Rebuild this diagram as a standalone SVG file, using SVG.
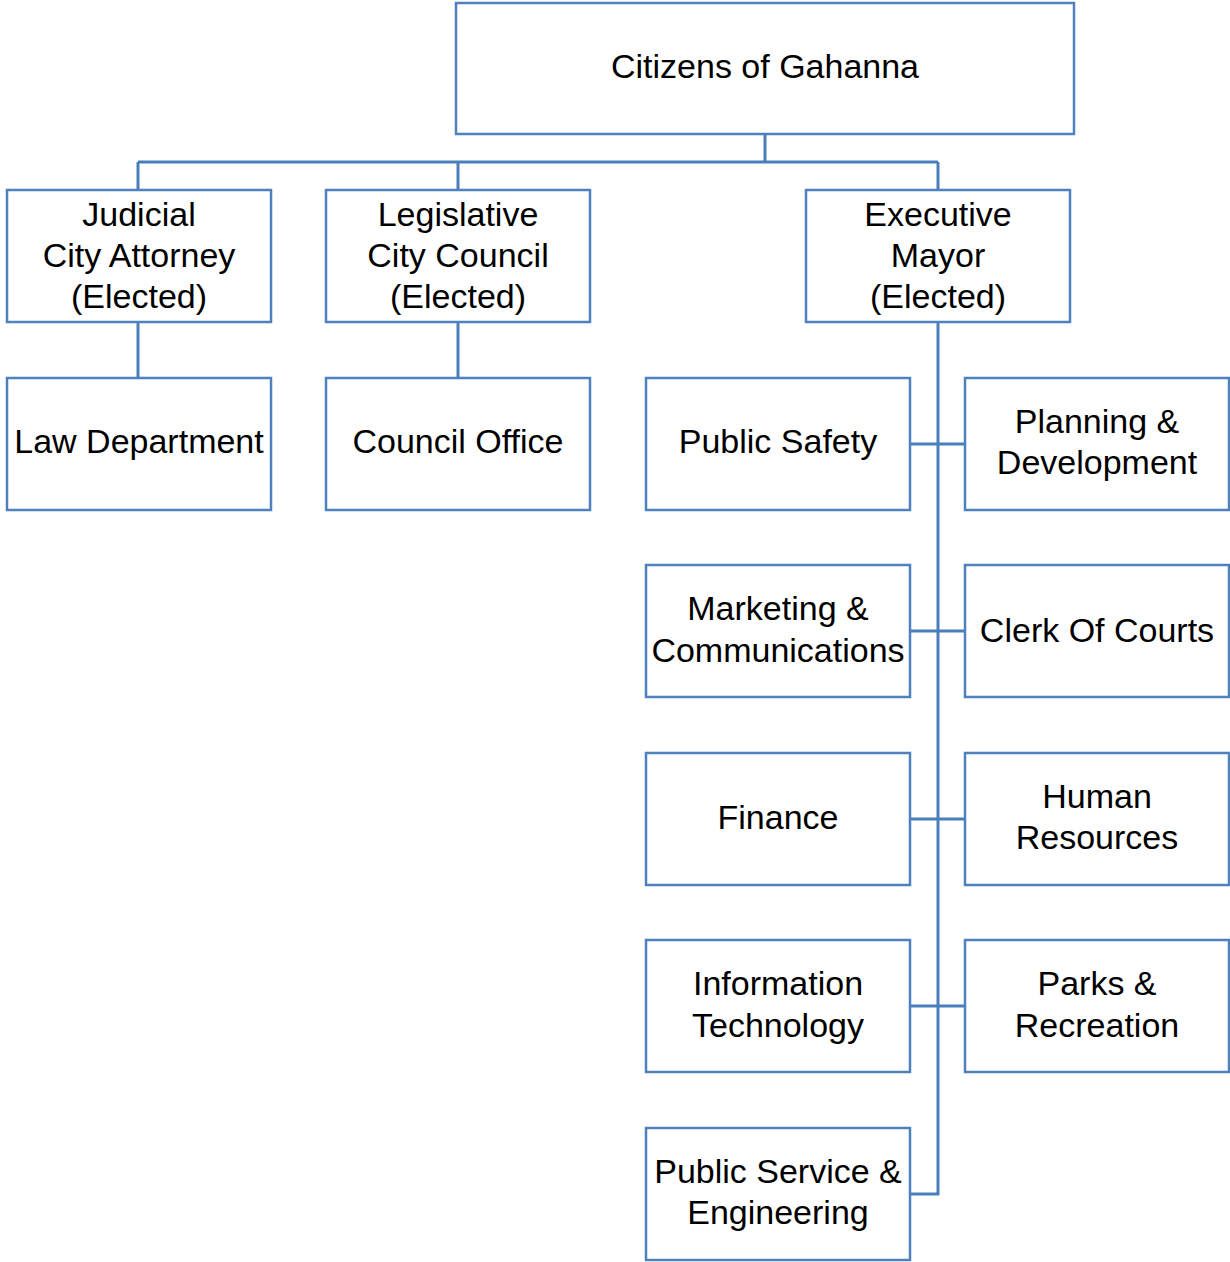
<svg xmlns="http://www.w3.org/2000/svg" width="1230" height="1262" viewBox="0 0 1230 1262">
<style>
rect{fill:#fff;stroke:#4f81bd;stroke-width:2.5}
text{font-family:"Liberation Sans",Arial,sans-serif;font-size:34px;fill:#000;text-anchor:middle}
.c{fill:none;stroke:#4a7ebb;stroke-width:3}
</style>
<rect x="0" y="0" width="1230" height="1262" style="stroke:none"/>
<g id="connectors" class="c">
<path class="c" d="M765 134V162M138 162H938M138 162V190M458 162V190M938 162V190"/>
<path class="c" d="M138 322V378M458 322V378"/>
<path class="c" d="M938 322V1194H910M910 444H965M910 631H965M910 819H965M910 1006H965"/>
</g>
<g id="citizens"><rect x="456" y="3" width="618" height="131"/><text x="765" y="78">Citizens of Gahanna</text></g>
<g id="judicial"><rect x="7" y="190" width="264" height="132"/><text x="139" y="226">Judicial</text><text x="139" y="267">City Attorney</text><text x="139" y="308">(Elected)</text></g>
<g id="legislative"><rect x="326" y="190" width="264" height="132"/><text x="458" y="226">Legislative</text><text x="458" y="267">City Council</text><text x="458" y="308">(Elected)</text></g>
<g id="executive"><rect x="806" y="190" width="264" height="132"/><text x="938" y="226">Executive</text><text x="938" y="267">Mayor</text><text x="938" y="308">(Elected)</text></g>
<g id="law"><rect x="7" y="378" width="264" height="132"/><text x="139" y="453">Law Department</text></g>
<g id="council"><rect x="326" y="378" width="264" height="132"/><text x="458" y="453">Council Office</text></g>
<g id="safety"><rect x="646" y="378" width="264" height="132"/><text x="778" y="453">Public Safety</text></g>
<g id="planning"><rect x="965" y="378" width="264" height="132"/><text x="1097" y="433">Planning &amp;</text><text x="1097" y="474">Development</text></g>
<g id="marketing"><rect x="646" y="565" width="264" height="132"/><text x="778" y="620">Marketing &amp;</text><text x="778" y="662">Communications</text></g>
<g id="clerk"><rect x="965" y="565" width="264" height="132"/><text x="1097" y="642">Clerk Of Courts</text></g>
<g id="finance"><rect x="646" y="753" width="264" height="132"/><text x="778" y="829">Finance</text></g>
<g id="hr"><rect x="965" y="753" width="264" height="132"/><text x="1097" y="808">Human</text><text x="1097" y="849">Resources</text></g>
<g id="it"><rect x="646" y="940" width="264" height="132"/><text x="778" y="995">Information</text><text x="778" y="1037">Technology</text></g>
<g id="parks"><rect x="965" y="940" width="264" height="132"/><text x="1097" y="995">Parks &amp;</text><text x="1097" y="1037">Recreation</text></g>
<g id="pse"><rect x="646" y="1128" width="264" height="132"/><text x="778" y="1183">Public Service &amp;</text><text x="778" y="1224">Engineering</text></g>
</svg>
